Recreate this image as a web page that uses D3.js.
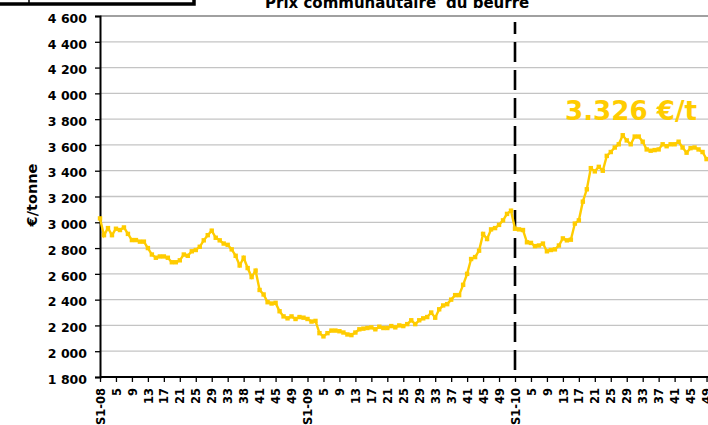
<!DOCTYPE html>
<html>
<head>
<meta charset="utf-8">
<script src="https://cdn.jsdelivr.net/npm/d3@7"></script>
<style>
  body { margin: 0; background: #fff; overflow: hidden; }
  svg { display: block; font-family: "DejaVu Sans", sans-serif; font-weight: bold; }
</style>
</head>
<body>
<svg id="chart" width="708" height="425"></svg>
<script>
// weekly butter price, €/tonne, from week 1 of 2008
const prices = [
  3030, 2900, 2955, 2900, 2950, 2940, 2960, 2910, 2862, 2862, 2850, 2850, 2800, 2750, 2725, 2735,
  2735, 2725, 2690, 2690, 2705, 2750, 2740, 2775, 2785, 2810, 2860, 2900, 2935, 2880, 2860, 2835,
  2825, 2790, 2740, 2665, 2725, 2645, 2575, 2625, 2475, 2440, 2380, 2370, 2375, 2310, 2270, 2255,
  2270, 2250, 2265, 2260, 2250, 2230, 2235, 2140, 2115, 2140, 2160, 2160, 2155, 2145, 2130, 2125,
  2145, 2170, 2175, 2180, 2185, 2170, 2190, 2180, 2180, 2195, 2185, 2200, 2195, 2210, 2240, 2210,
  2240, 2255, 2265, 2300, 2260, 2325, 2355, 2365, 2400, 2435, 2435, 2515, 2600, 2715, 2730, 2780,
  2910, 2870, 2945, 2955, 2980, 3015, 3065, 3090, 2950, 2945, 2940, 2845, 2840, 2815, 2820, 2835,
  2775, 2785, 2790, 2820, 2875, 2860, 2865, 2990, 3015, 3160, 3256, 3420, 3395, 3430, 3400, 3515,
  3545, 3580, 3605, 3675, 3635, 3605, 3665, 3665, 3625, 3565, 3555, 3560, 3565, 3605, 3590, 3605,
  3605, 3625, 3580, 3540, 3575, 3580, 3565, 3545, 3490
];
// one label every 4 weeks
const tickLabels = [
  "S1-08", "5", "9", "13", "17", "21", "25", "29", "33", "38", "41", "45", "49",
  "S1-09", "5", "9", "13", "17", "21", "25", "29", "33", "37", "41", "45", "49",
  "S1-10", "5", "9", "13", "17", "21", "25", "29", "33", "37", "41", "45", "49"
];
const yTicks = d3.range(1800, 4601, 200);
const title = "Prix communautaire";
const titleEnd = " du beurre";
const yLabel = "€/tonne";
const annotation = "3.326 €/t";
const splitWeek = 104; // S1-10

const gold = "#FFCC00";
const svg = d3.select("#chart");

const plotLeft = 100, plotTop = 16, plotBottom = 377, plotRight = 720;
const x = d3.scaleLinear().domain([0, 104]).range([plotLeft, 515]);
const y = d3.scaleLinear().domain([1800, 4600]).range([plotBottom, plotTop]);

const fmt = d3.formatLocale({ decimal: ",", thousands: " ", grouping: [3], currency: ["", "€"] }).format(",d");

// gridlines
svg.append("g")
  .selectAll("line")
  .data(yTicks.slice(1))
  .join("line")
  .attr("x1", plotLeft).attr("x2", plotRight)
  .attr("y1", d => y(d)).attr("y2", d => y(d))
  .attr("stroke", d => d === 4600 ? "#808080" : "#c4c4c4")
  .attr("stroke-width", 1.3);

// y axis
const yAxis = svg.append("g")
  .attr("transform", `translate(${plotLeft},0)`)
  .call(d3.axisLeft(y).tickValues(yTicks).tickFormat(fmt).tickSize(5).tickPadding(8));
yAxis.select(".domain").attr("stroke", "#000").attr("stroke-width", 2);
yAxis.selectAll(".tick line").attr("stroke", "#000").attr("stroke-width", 1.3);
yAxis.selectAll("text")
  .attr("font-size", 12.5).attr("font-family", "DejaVu Sans").attr("font-weight", "bold")
  .attr("fill", "#000").attr("dy", "0.5em");

// x axis
const xAxis = svg.append("g")
  .attr("transform", `translate(0,${plotBottom})`)
  .call(d3.axisBottom(x)
    .tickValues(d3.range(0, tickLabels.length * 4, 4))
    .tickFormat((d, i) => tickLabels[i])
    .tickSize(5).tickSizeOuter(0));
xAxis.select(".domain").attr("stroke", "#000").attr("stroke-width", 2)
  .attr("d", `M${plotLeft},0H${plotRight}`);
xAxis.selectAll(".tick line").attr("stroke", "#000").attr("stroke-width", 1.3);
xAxis.selectAll("text")
  .attr("font-size", 11.5).attr("font-family", "DejaVu Sans").attr("font-weight", "bold")
  .attr("fill", "#000")
  .attr("transform", "rotate(-90)")
  .attr("text-anchor", "end")
  .attr("x", -11).attr("y", 0).attr("dy", "0.36em");

// split between years
svg.append("line")
  .attr("x1", x(splitWeek)).attr("x2", x(splitWeek))
  .attr("y1", 22).attr("y2", plotBottom)
  .attr("stroke", "#000").attr("stroke-width", 2.6)
  .attr("stroke-dasharray", "20,8").attr("stroke-dashoffset", 8);

// price line
const line = d3.line().x((d, i) => x(i)).y(d => y(d));
svg.append("path")
  .datum(prices)
  .attr("d", line)
  .attr("fill", "none")
  .attr("stroke", gold)
  .attr("stroke-width", 2.4);
svg.append("g")
  .selectAll("rect")
  .data(prices)
  .join("rect")
  .attr("x", (d, i) => x(i) - 2.2).attr("y", d => y(d) - 2.2)
  .attr("width", 4.4).attr("height", 4.4)
  .attr("fill", gold);

// annotation
svg.append("text")
  .attr("x", 565).attr("y", 120)
  .attr("font-size", 26)
  .attr("fill", gold)
  .attr("textLength", 132).attr("lengthAdjust", "spacingAndGlyphs")
  .text(annotation);

// y label
svg.append("text")
  .attr("transform", "translate(37,195) rotate(-90)")
  .attr("text-anchor", "middle")
  .attr("font-size", 14.5)
  .text(yLabel);

// title (clipped at the top, as in the source)
const t = svg.append("text")
  .attr("x", 265).attr("y", 8)
  .attr("font-size", 15);
t.append("tspan").text(title);
t.append("tspan").attr("font-size", 9).attr("dy", -5).text("*");
t.append("tspan").attr("dy", 5).text(titleEnd);

// box at the top left
svg.append("rect")
  .attr("x", -5).attr("y", -20).attr("width", 199).attr("height", 24)
  .attr("fill", "#fff").attr("stroke", "#000").attr("stroke-width", 3.5);
svg.append("line")
  .attr("x1", 29).attr("x2", 29).attr("y1", -5).attr("y2", 4)
  .attr("stroke", "#000").attr("stroke-width", 1.5);
</script>
</body>
</html>
